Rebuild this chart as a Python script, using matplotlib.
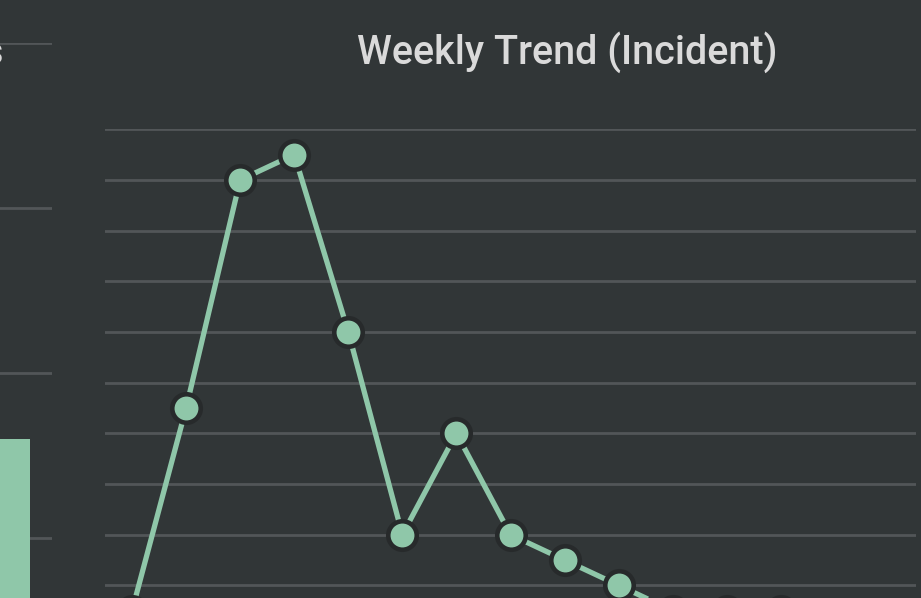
import matplotlib
matplotlib.use("Agg")
import matplotlib.pyplot as plt
import numpy as np

# ---- data ----
weeks = list(range(1, 16))
incidents = [1, 9, 18, 19, 12, 4, 8, 4, 3, 2, 1, 1, 1, 0, 0]
trend_yticks = list(range(0, 21, 2))

left_categories = ["Total"]
left_values = [16]
left_yticks = [0, 10, 20, 30, 40]

BG = "#313637"
GRID = "#525658"
GREEN = "#8fc7a9"
EDGE = "#272a2b"
TEXT = "#dadada"

W, H = 921, 598
fig = plt.figure(figsize=(W / 100, H / 100), dpi=100)
fig.patch.set_facecolor(BG)

def fx(px):
    return px / W

def fy(py):
    return (H - py) / H

# ---- left (partially visible) bar panel ----
l_left, l_right = -100, 51.7
l_top, l_bottom = 43.3, 703
axl = fig.add_axes([fx(l_left), fy(l_bottom), fx(l_right) - fx(l_left), fy(l_top) - fy(l_bottom)])
axl.set_facecolor(BG)
axl.bar(np.arange(len(left_values)), left_values, width=0.714, color=GREEN, zorder=2)
axl.set_xlim(-0.5, 0.5)
axl.set_ylim(0, 40)
axl.set_yticks(left_yticks)
axl.yaxis.grid(True, color=GRID, linewidth=2.0, zorder=0)
axl.set_axisbelow(True)
axl.tick_params(left=False, bottom=False, labelleft=False, labelbottom=False)
for s in axl.spines.values():
    s.set_visible(False)

fig.text(fx(4), fy(64), "Incidents", ha="right", va="baseline",
         fontsize=28, color=TEXT, weight="medium", family=["Roboto", "DejaVu Sans"])

# ---- right: weekly trend ----
r_left, r_right = 105, 916
r_top, r_bottom = 129.3, 636
ax = fig.add_axes([fx(r_left), fy(r_bottom), fx(r_right) - fx(r_left), fy(r_top) - fy(r_bottom)])
ax.set_facecolor(BG)
x = np.arange(len(weeks))
ax.plot(x, incidents, color=GREEN, linewidth=3.8, zorder=3, solid_capstyle="butt")
ax.plot(x, incidents, linestyle="none", marker="o", markersize=20.5,
        markerfacecolor=GREEN, markeredgecolor=EDGE, markeredgewidth=3.3, zorder=4)
ax.set_xlim(-0.5, len(weeks) - 0.5)
ax.set_ylim(0, 20)
ax.set_yticks(trend_yticks)
ax.yaxis.grid(True, color=GRID, linewidth=2.0, zorder=0)
ax.set_axisbelow(True)
ax.tick_params(left=False, bottom=False, labelleft=False, labelbottom=False)
for s in ax.spines.values():
    s.set_visible(False)

fig.text(fx(567), fy(63.5), "Weekly Trend (Incident)", ha="center", va="baseline",
         fontsize=28.5, color=TEXT, weight="medium", family=["Roboto", "DejaVu Sans"])

fig.savefig("out.png", dpi=100, facecolor=BG)
